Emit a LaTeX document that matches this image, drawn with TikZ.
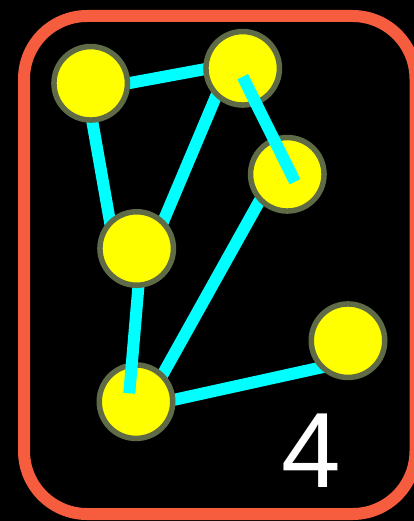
\documentclass[tikz,border=0pt]{standalone}
\usepackage{fontspec}
\setmainfont{Liberation Sans}
\usepackage{tikz}
\usetikzlibrary{positioning}

\definecolor{frame}{HTML}{F55D3E}
\definecolor{ring}{HTML}{5F6A46}
\definecolor{link}{HTML}{00FFFF}
\definecolor{dot}{HTML}{FFFF00}

\begin{document}
\begin{tikzpicture}[x=1pt, y=-1pt,
        vertex/.style={draw=ring, fill=dot, circle, line width=5.5pt, minimum size=73.5pt, inner sep=0pt},
        link/.style={draw=link, line width=12pt}]
        \fill[black] (0,0) rectangle (414,521);
        \useasboundingbox (0,0) rectangle (414,521);
        \clip (0,0) rectangle (414,521);
        \draw[frame, line width=12pt, rounded corners=63pt] (24,16) rectangle (415.5,514);

        % edge ends hidden under the dots
        \coordinate (ab1) at (100,88.5);   \coordinate (ab2) at (230,64.5);
        \coordinate (ad1) at (88.5,100);   \coordinate (ad2) at (113.2,240);
        \coordinate (bd1) at (228,68);     \coordinate (bd2) at (152,248);
        \coordinate (ce1) at (271.2,180);  \coordinate (ce2) at (154,390);
        \coordinate (ef1) at (150,405.1);  \coordinate (ef2) at (340,363.3);
        \coordinate (de1) at (140.7,260);  \coordinate (de2) at (129.3,393.3);
        \coordinate (bc1) at (242.7,76.7); \coordinate (bc2) at (295,181.7);

        \draw[link] (ab1) -- (ab2);
        \draw[link] (ad1) -- (ad2);
        \draw[link] (bd1) -- (bd2);
        \draw[link] (ce1) -- (ce2);
        \draw[link] (ef1) -- (ef2);

        \node (e) [vertex] at (136,401.7) {};
        \node (f) [vertex] at (348,340.7) {};
        \node (a) [vertex] at (90.7,83.3) {};
        \node (b) [vertex] at (242.7,68.3) {};
        \node (c) [vertex] at (287.3,174.3) {};

        \draw[link] (de1) -- (de2);
        \node (d) [vertex] at (136.7,248.5) {};
        \draw[link] (bc1) -- (bc2);

        \node (count) [text=white, inner sep=0pt, font=\fontsize{107}{107}\selectfont] at (310.8,451) {4};
    \end{tikzpicture}
\end{document}
